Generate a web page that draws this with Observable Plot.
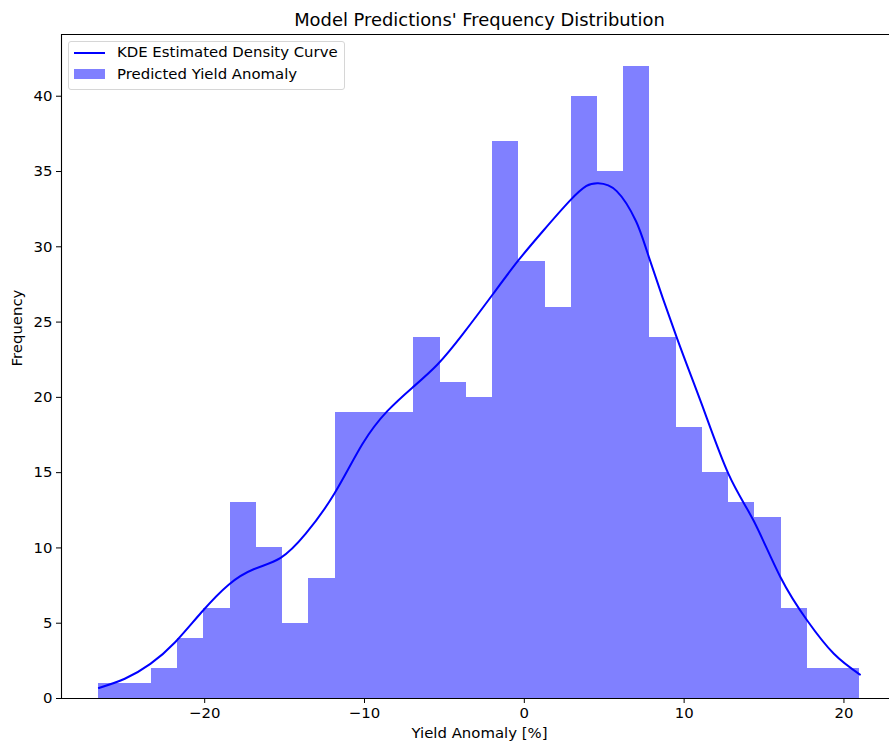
<!DOCTYPE html>
<html>
<head>
<meta charset="utf-8">
<script src="https://cdn.jsdelivr.net/npm/d3@7"></script>
<script src="https://cdn.jsdelivr.net/npm/@observablehq/plot@0.6"></script>
<style>
  body { margin: 0; background: #fff; }
  #wrap { position: relative; width: 889px; height: 749px; overflow: hidden; font-family: "DejaVu Sans", sans-serif; }
  #legend { position: absolute; left: 68px; top: 41px; width: 275px; height: 47px; border: 1px solid #d6d6d6; border-radius: 3px; background: rgba(255,255,255,0.8); font-size: 14.9px; color: #000; }
  .sw-line { position: absolute; left: 5px; width: 31px; height: 2px; background: blue; }
  .sw-patch { position: absolute; left: 5px; width: 31px; height: 10px; background: #8080ff; }
  .lbl { position: absolute; left: 48px; white-space: nowrap; }
</style>
</head>
<body>
<div id="wrap">
  <div id="chart"></div>
  <div id="legend">
    <div class="sw-line" style="top:10px"></div>
    <div class="lbl" style="top:1px">KDE Estimated Density Curve</div>
    <div class="sw-patch" style="top:27px"></div>
    <div class="lbl" style="top:23px">Predicted Yield Anomaly</div>
  </div>
</div>
<script>
// ---- data ----
const histMin = -26.62;
const histMax = 21.0;
const counts = [1, 1, 2, 4, 6, 13, 10, 5, 8, 19, 19, 19, 24, 21, 20, 37, 29, 26, 40, 35, 42, 24, 18, 15, 13, 12, 6, 2, 2];

const kdeX = [-26.62, -25.0, -23.4, -21.85, -20.2, -18.5, -16.9, -15.25, -13.69, -11.9, -10.13, -8.56, -6.99, -5.42, -3.85, -1.97, -0.40, 1.17, 2.84, 3.89, 4.62, 5.78, 6.99, 7.8, 9.54, 11.1, 12.78, 14.35, 16.03, 17.7, 19.37, 21.0];
const kdeY = [0.7, 1.31, 2.30, 3.74, 5.73, 7.56, 8.6, 9.34, 10.93, 13.58, 16.9, 19.1, 20.66, 22.2, 24.2, 26.85, 29.06, 31.05, 33.05, 34.04, 34.22, 33.7, 31.7, 29.3, 23.97, 19.55, 14.9, 11.8, 8.05, 5.18, 2.97, 1.59];

const xTicks = [-20, -10, 0, 10, 20];
const yTicks = [0, 5, 10, 15, 20, 25, 30, 35, 40];
const xDomain = [-28.96, 22.85];
const yDomain = [0, 44.1];

const titleText = "Model Predictions' Frequency Distribution";
const xLabel = "Yield Anomaly [%]";
const yLabel = "Frequency";

// ---- build tables ----
const binW = (histMax - histMin) / counts.length;
const bins = counts.map((c, i) => ({x1: histMin + i * binW, x2: histMin + (i + 1) * binW, y: c}));
const kde = kdeX.map((x, i) => ({x, y: kdeY[i]}));
const fmt = d => d < 0 ? "\u2212" + Math.abs(d) : String(d);

const chart = Plot.plot({
  width: 889,
  height: 749,
  marginLeft: 61,
  marginRight: 0,
  marginTop: 34,
  marginBottom: 51,
  x: {domain: xDomain},
  y: {domain: yDomain},
  style: {fontFamily: "DejaVu Sans", fontSize: "14.9px", color: "#000", background: "white", overflow: "visible"},
  marks: [
    Plot.rectY(bins, {x1: "x1", x2: "x2", y: "y", fill: "#8080ff", inset: 0, shapeRendering: "crispEdges"}),
    Plot.line(kde, {x: "x", y: "y", stroke: "blue", strokeWidth: 2, curve: "natural"}),
    Plot.ruleY([yDomain[0]], {stroke: "#000", strokeWidth: 1.1}),
    Plot.ruleY([yDomain[1]], {stroke: "#000", strokeWidth: 1.1}),
    Plot.ruleX([xDomain[0]], {stroke: "#000", strokeWidth: 1.1}),
    Plot.axisX({ticks: xTicks, tickSize: 5, tickPadding: 4, tickFormat: fmt, label: null, stroke: "#000"}),
    Plot.axisY({ticks: yTicks, tickSize: 5, tickPadding: 4, label: null, stroke: "#000"}),
    Plot.text([xLabel], {frameAnchor: "bottom", text: d => d, dy: 39, dx: 4, fontSize: 14.9, fill: "#000"}),
    Plot.text([yLabel], {frameAnchor: "left", text: d => d, dx: -44, rotate: -90, fontSize: 14.9, fill: "#000"}),
    Plot.text([titleText], {frameAnchor: "top", text: d => d, dy: -21, dx: 4, fontSize: 17.9, fill: "#000"})
  ]
});
document.getElementById("chart").appendChild(chart);
</script>
</body>
</html>
